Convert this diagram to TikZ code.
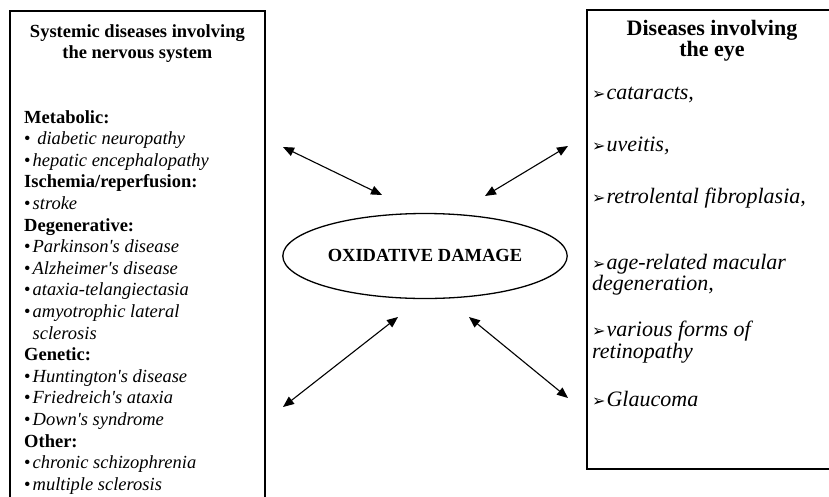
\documentclass[tikz,border=0pt]{standalone}
\usepackage{fontspec}
\setmainfont{Liberation Serif}
\newfontfamily\dingfont{DejaVu Sans}
\usetikzlibrary{arrows.meta, shapes.geometric, positioning}

\tikzset{
  frame/.style={draw, line width=1.8pt, rectangle, anchor=north west, inner sep=0pt},
  boxtitle/.style={font=\fontsize{18.5}{21}\selectfont\bfseries, align=center, inner sep=0pt},
  eyeitem/.style={font=\fontsize{22}{21.3}\selectfont\itshape, align=left, anchor=west, inner sep=0pt},
  link/.style={{Triangle[length=11pt,width=9pt]}-{Triangle[length=11pt,width=9pt]}, line width=1.1pt}
}
\newcommand{\eyemark}{{\dingfont\upshape\fontsize{16}{16}\selectfont ➢}\kern1pt}
\newcommand{\itembul}{•\kern2pt}
\newcommand{\ap}{\textquotesingle}

\begin{document}
\begin{tikzpicture}[x=1pt, y=-1pt]
          \useasboundingbox (0,0) rectangle (829,496);
          \clip (0,0) rectangle (829,496);
          % Left box
          \node[frame, minimum width=255pt, minimum height=500pt] (leftbox) at (9,10) {};
          \node[boxtitle, below=14pt of leftbox.north] (lefttitle)
               {Systemic diseases involving\\the nervous system};
          \node[font=\fontsize{18.5}{21.6}\selectfont, align=left, inner sep=0pt,
                anchor=north west] (leftlist) at (24,110)
               {\textbf{Metabolic:}\\
                \itembul\ \textit{diabetic neuropathy}\\
                \itembul\textit{hepatic encephalopathy}\\
                \textbf{Ischemia/reperfusion:}\\
                \itembul\textit{stroke}\\
                \textbf{Degenerative:}\\
                \itembul\textit{Parkinson\ap s disease}\\
                \itembul\textit{Alzheimer\ap s disease}\\
                \itembul\textit{ataxia-telangiectasia}\\
                \itembul\textit{amyotrophic lateral}\\
                \hphantom{\itembul}\textit{sclerosis}\\
                \textbf{Genetic:}\\
                \itembul\textit{Huntington\ap s disease}\\
                \itembul\textit{Friedreich\ap s ataxia}\\
                \itembul\textit{Down\ap s syndrome}\\
                \textbf{Other:}\\
                \itembul\textit{chronic schizophrenia}\\
                \itembul\textit{multiple sclerosis}};
          % Right box
          \node[frame, minimum width=260pt, minimum height=459pt] (rightbox) at (586,9) {};
          \node[boxtitle, font=\fontsize{22}{21}\selectfont\bfseries, anchor=north] (righttitle)
               at (712,20) {Diseases involving\\the eye};
          \node[eyeitem] (cataracts) at (592,95) {\eyemark cataracts,};
          \node[eyeitem] (uveitis) at (592,146) {\eyemark uveitis,};
          \node[eyeitem] (retrolental) at (592,198) {\eyemark retrolental fibroplasia,};
          \node[eyeitem] (macular) at (592,275) {\eyemark age-related macular\\degeneration,};
          \node[eyeitem] (retinopathy) at (592,342) {\eyemark various forms of\\retinopathy};
          \node[eyeitem] (glaucoma) at (592,399) {\eyemark Glaucoma};
          % Centre
          \node[ellipse, draw, line width=1.3pt, minimum width=223pt, minimum height=85pt,
                font=\fontsize{18.5}{21}\selectfont\bfseries] (damage) at (425,256) {OXIDATIVE DAMAGE};
          \coordinate (ulout) at (283,147);
          \coordinate (ulin) at (382,195);
          \coordinate (urout) at (568,146);
          \coordinate (urin) at (485,196);
          \coordinate (llout) at (283,407);
          \coordinate (llin) at (398,317);
          \coordinate (lrout) at (568,398);
          \coordinate (lrin) at (469,317);
          \draw[link] (ulout) -- (ulin);
          \draw[link] (urout) -- (urin);
          \draw[link] (llout) -- (llin);
          \draw[link] (lrout) -- (lrin);
        \end{tikzpicture}
\end{document}
